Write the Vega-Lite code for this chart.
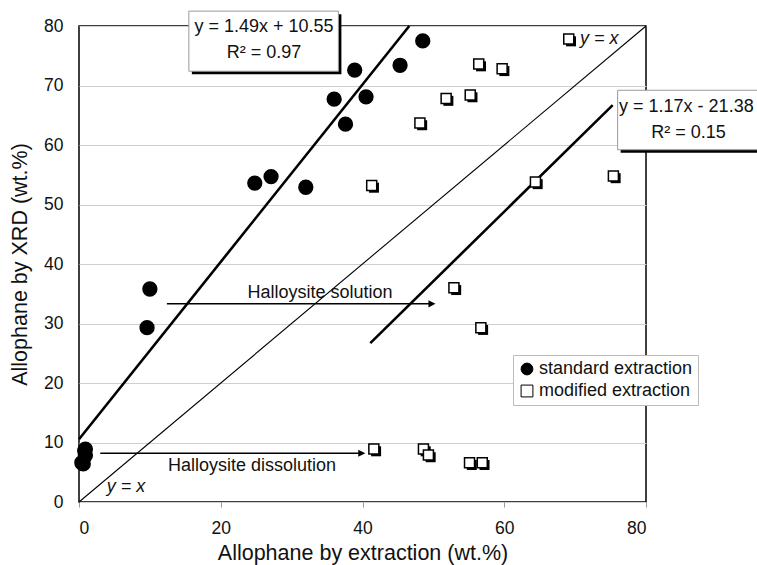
{
  "$schema": "https://vega.github.io/schema/vega-lite/v6.json",
  "width": 567,
  "height": 476,
  "autosize": {"type": "none"},
  "padding": {"left": 79, "top": 26, "right": 111, "bottom": 63},
  "background": "white",
  "config": {
    "font": "Liberation Sans",
    "view": {"stroke": "black", "strokeWidth": 1.5},
    "axis": {"labelFont": "Liberation Sans", "titleFont": "Liberation Sans", "labelColor": "#111", "titleColor": "#111", "titleFontWeight": "normal", "domainColor": "black"},
    "legend": {"orient": "none", "legendX": 434, "legendY": 329}
  },
  "datasets": {
    "points": [
      {"extraction": 0.9, "xrd": 8.9, "series": "standard extraction"},
      {"extraction": 0.8, "xrd": 8.6, "series": "standard extraction"},
      {"extraction": 0.9, "xrd": 7.8, "series": "standard extraction"},
      {"extraction": 0.4, "xrd": 6.6, "series": "standard extraction"},
      {"extraction": 0.6, "xrd": 6.4, "series": "standard extraction"},
      {"extraction": 9.6, "xrd": 29.3, "series": "standard extraction"},
      {"extraction": 10.0, "xrd": 35.8, "series": "standard extraction"},
      {"extraction": 24.8, "xrd": 53.6, "series": "standard extraction"},
      {"extraction": 27.1, "xrd": 54.7, "series": "standard extraction"},
      {"extraction": 32.0, "xrd": 52.9, "series": "standard extraction"},
      {"extraction": 36.0, "xrd": 67.7, "series": "standard extraction"},
      {"extraction": 37.6, "xrd": 63.5, "series": "standard extraction"},
      {"extraction": 38.9, "xrd": 72.6, "series": "standard extraction"},
      {"extraction": 40.5, "xrd": 68.1, "series": "standard extraction"},
      {"extraction": 45.3, "xrd": 73.4, "series": "standard extraction"},
      {"extraction": 48.5, "xrd": 77.5, "series": "standard extraction"},
      {"extraction": 41.6, "xrd": 8.9, "series": "modified extraction"},
      {"extraction": 48.6, "xrd": 8.9, "series": "modified extraction"},
      {"extraction": 49.3, "xrd": 7.9, "series": "modified extraction"},
      {"extraction": 55.1, "xrd": 6.6, "series": "modified extraction"},
      {"extraction": 56.9, "xrd": 6.6, "series": "modified extraction"},
      {"extraction": 56.7, "xrd": 29.3, "series": "modified extraction"},
      {"extraction": 52.9, "xrd": 36.0, "series": "modified extraction"},
      {"extraction": 41.3, "xrd": 53.2, "series": "modified extraction"},
      {"extraction": 64.4, "xrd": 53.8, "series": "modified extraction"},
      {"extraction": 75.4, "xrd": 54.8, "series": "modified extraction"},
      {"extraction": 48.1, "xrd": 63.7, "series": "modified extraction"},
      {"extraction": 51.8, "xrd": 67.8, "series": "modified extraction"},
      {"extraction": 55.2, "xrd": 68.4, "series": "modified extraction"},
      {"extraction": 56.4, "xrd": 73.6, "series": "modified extraction"},
      {"extraction": 59.7, "xrd": 72.8, "series": "modified extraction"},
      {"extraction": 69.1, "xrd": 77.8, "series": "modified extraction"}
    ],
    "lines": [
      {"name": "reg1", "kind": "fit", "x1": 0, "y1": 10.55, "x2": 46.6, "y2": 80},
      {"name": "reg2", "kind": "fit", "x1": 41.1, "y1": 26.7, "x2": 75.3, "y2": 66.7},
      {"name": "identity", "kind": "identity", "x1": 0, "y1": 0, "x2": 80, "y2": 80}
    ],
    "arrows": [
      {"name": "solution", "x1": 12.4, "x2": 49.8, "y": 33.3},
      {"name": "dissolution", "x1": 3.0, "x2": 39.9, "y": 8.2}
    ],
    "boxes": [
      {"name": "eq1", "x1": 15.5, "x2": 36.6, "y1": 82.5, "y2": 72.4},
      {"name": "eq2", "x1": 76.0, "x2": 97.0, "y1": 69.2, "y2": 59.2}
    ],
    "labels": [
      {"text": "Halloysite solution", "x": 34.0, "y": 35.2, "style": "center"},
      {"text": "Halloysite dissolution", "x": 24.4, "y": 6.05, "style": "center"},
      {"text": "y = 1.49x + 10.55", "x": 26.1, "y": 79.9, "style": "center"},
      {"text": "R² = 0.97", "x": 26.1, "y": 75.4, "style": "center"},
      {"text": "R² = 0.15", "x": 86.0, "y": 62.0, "style": "center"},
      {"text": "y = 1.17x - 21.38", "x": 76.2, "y": 66.4, "style": "left"},
      {"text": "y = x", "x": 70.7, "y": 77.8, "style": "italic"},
      {"text": "y = x", "x": 3.9, "y": 2.6, "style": "italic"}
    ]
  },
  "layer": [
    {
      "data": {"name": "boxes"},
      "mark": {"type": "rect", "fill": "black", "xOffset": 3, "x2Offset": 3, "yOffset": 3, "y2Offset": 3, "clip": false},
      "encoding": {
        "x": {"field": "x1", "type": "quantitative", "scale": {"domain": [0, 80], "nice": false}, "axis": {"title": "Allophane by extraction (wt.%)", "values": [0, 20, 40, 60, 80], "grid": false, "labelFontSize": 17.5, "titleFontSize": 21.5, "tickSize": 5, "tickColor": "#999", "labelPadding": 12, "titlePadding": 6, "domain": false}},
        "x2": {"field": "x2"},
        "y": {"field": "y1", "type": "quantitative", "scale": {"domain": [0, 80], "nice": false}, "axis": {"title": "Allophane by XRD (wt.%)", "values": [0, 10, 20, 30, 40, 50, 60, 70, 80], "grid": true, "gridColor": "#cfcfcf", "ticks": false, "labelPadding": 16, "labelFontSize": 17.5, "titleFontSize": 21.5, "titlePadding": 12, "domain": false}},
        "y2": {"field": "y2"}
      }
    },
    {
      "data": {"name": "boxes"},
      "mark": {"type": "rect", "fill": "white", "stroke": "#999", "strokeWidth": 1, "clip": false},
      "encoding": {
        "x": {"field": "x1", "type": "quantitative"},
        "x2": {"field": "x2"},
        "y": {"field": "y1", "type": "quantitative"},
        "y2": {"field": "y2"}
      }
    },
    {
      "data": {"name": "lines"},
      "transform": [{"filter": "datum.kind == 'fit'"}],
      "mark": {"type": "rule", "color": "black", "strokeWidth": 2.6},
      "encoding": {
        "x": {"field": "x1", "type": "quantitative"},
        "x2": {"field": "x2"},
        "y": {"field": "y1", "type": "quantitative"},
        "y2": {"field": "y2"}
      }
    },
    {
      "data": {"name": "lines"},
      "transform": [{"filter": "datum.kind == 'identity'"}],
      "mark": {"type": "rule", "color": "black", "strokeWidth": 1.1},
      "encoding": {
        "x": {"field": "x1", "type": "quantitative"},
        "x2": {"field": "x2"},
        "y": {"field": "y1", "type": "quantitative"},
        "y2": {"field": "y2"}
      }
    },
    {
      "data": {"name": "arrows"},
      "mark": {"type": "rule", "color": "black", "strokeWidth": 1.5},
      "encoding": {
        "x": {"field": "x1", "type": "quantitative"},
        "x2": {"field": "x2"},
        "y": {"field": "y", "type": "quantitative"}
      }
    },
    {
      "data": {"name": "arrows"},
      "mark": {"type": "point", "shape": "M-1,-1L1,0L-1,1Z", "filled": true, "color": "black", "size": 50, "opacity": 1},
      "encoding": {
        "x": {"field": "x2", "type": "quantitative"},
        "y": {"field": "y", "type": "quantitative"}
      }
    },
    {
      "data": {"name": "points"},
      "transform": [{"filter": "datum.series == 'modified extraction'"}],
      "mark": {"type": "point", "shape": "M-0.55,-0.55L1.45,-0.55L1.45,1.45L-0.55,1.45Z", "filled": true, "color": "black", "size": 100, "opacity": 1},
      "encoding": {
        "x": {"field": "extraction", "type": "quantitative"},
        "y": {"field": "xrd", "type": "quantitative"}
      }
    },
    {
      "data": {"name": "points"},
      "mark": {"type": "point", "stroke": "black", "strokeWidth": 1.5, "opacity": 1, "filled": true},
      "encoding": {
        "x": {"field": "extraction", "type": "quantitative"},
        "y": {"field": "xrd", "type": "quantitative"},
        "fill": {"field": "series", "type": "nominal", "scale": {"domain": ["standard extraction", "modified extraction"], "range": ["black", "white"]}, "legend": {"title": null, "labelFontSize": 18, "labelColor": "#111", "labelFont": "Liberation Sans", "symbolSize": 140, "symbolStrokeColor": "black", "symbolStrokeWidth": 1, "strokeColor": "#bbb", "fillColor": "white", "padding": 5, "rowPadding": 4, "labelOffset": 3}},
        "shape": {"field": "series", "type": "nominal", "scale": {"domain": ["standard extraction", "modified extraction"], "range": ["circle", "square"]}},
        "size": {"condition": {"test": "datum.series == 'standard extraction'", "value": 190}, "value": 100}
      }
    },
    {
      "data": {"name": "labels"},
      "transform": [{"filter": "datum.style == 'center'"}],
      "mark": {"type": "text", "fontSize": 18, "align": "center", "baseline": "middle", "color": "#111"},
      "encoding": {
        "x": {"field": "x", "type": "quantitative"},
        "y": {"field": "y", "type": "quantitative"},
        "text": {"field": "text"}
      }
    },
    {
      "data": {"name": "labels"},
      "transform": [{"filter": "datum.style == 'left'"}],
      "mark": {"type": "text", "fontSize": 18, "align": "left", "baseline": "middle", "color": "#111"},
      "encoding": {
        "x": {"field": "x", "type": "quantitative"},
        "y": {"field": "y", "type": "quantitative"},
        "text": {"field": "text"}
      }
    },
    {
      "data": {"name": "labels"},
      "transform": [{"filter": "datum.style == 'italic'"}],
      "mark": {"type": "text", "fontSize": 18, "fontStyle": "italic", "align": "left", "baseline": "middle", "color": "#111"},
      "encoding": {
        "x": {"field": "x", "type": "quantitative"},
        "y": {"field": "y", "type": "quantitative"},
        "text": {"field": "text"}
      }
    }
  ]
}
